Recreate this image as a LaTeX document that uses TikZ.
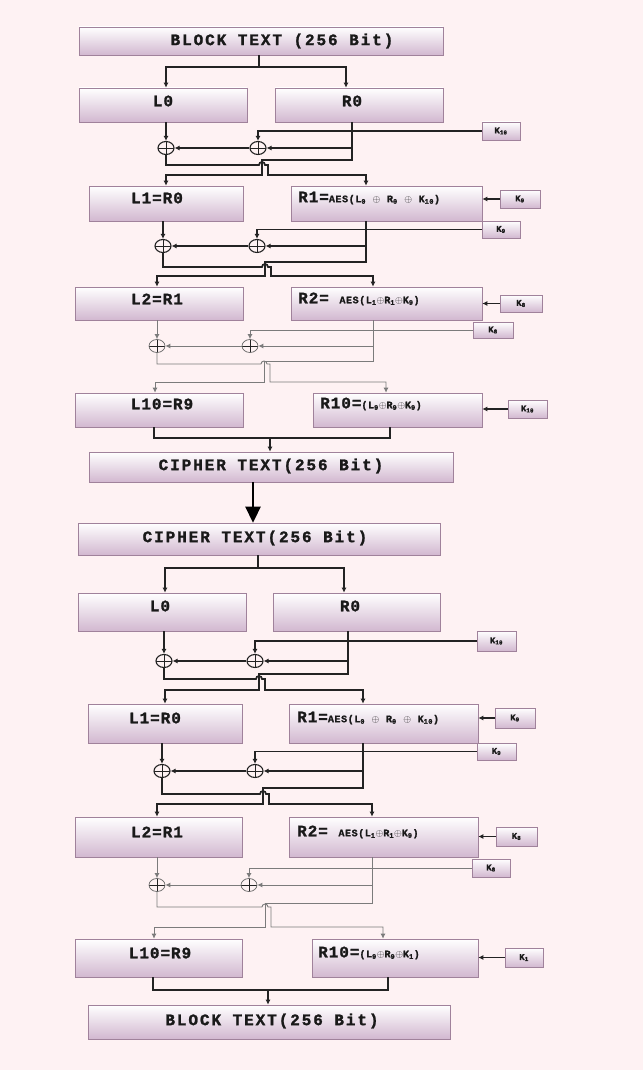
\documentclass[tikz,border=0pt]{standalone}
\usepackage{fontspec}
\setmonofont[BoldFeatures={FakeBold=1.2}]{Liberation Mono}
\newfontfamily\ttlfont[LetterSpace=12,BoldFeatures={FakeBold=1.4}]{Liberation Mono}
\newfontfamily\lblfont[LetterSpace=6,BoldFeatures={FakeBold=1.4}]{Liberation Mono}
\usetikzlibrary{arrows.meta,shadows,shapes.geometric}
\definecolor{bgc}{RGB}{254,242,243}
\definecolor{boxc}{RGB}{210,184,208}
\definecolor{boxd}{RGB}{160,130,155}
\definecolor{lnc}{RGB}{35,35,35}
\definecolor{txc}{RGB}{25,25,25}
\newcommand\bx[6]{\node[#6, minimum width={(#4-#2)*1pt}, minimum height={(#5-#3)*1pt}] (#1) at ({(#2+#4)/2},{(#3+#5)/2}) {};}
\newcommand\sm{\fontsize{10}{10}\selectfont}
\tikzset{
  box/.style={draw=boxd, line width=0.6pt, top color=white, bottom color=boxc, inner sep=0pt,
    drop shadow={shadow xshift=1pt, shadow yshift=-1.4pt, fill=boxd, opacity=0.7}},
  ln/.style={draw=lnc, line width=1.7pt},
  thn/.style={draw=lnc!60, line width=0.9pt},
  tip/.style={-{Latex[length=5pt,width=5pt]}},
  xor/.style={ellipse, draw=lnc, line width=1.1pt, minimum width=16pt, minimum height=13pt, inner sep=0pt,
    path picture={\draw[lnc,line width=1pt] (path picture bounding box.north) -- (path picture bounding box.south)
      (path picture bounding box.west) -- (path picture bounding box.east);}},
  xort/.style={xor, draw=lnc!70, line width=0.7pt},
  ttl/.style={font=\ttlfont\bfseries\fontsize{16}{16}\selectfont, text=txc, inner sep=0pt},
  lb/.style={font=\lblfont\bfseries\fontsize{16}{16}\selectfont, text=txc, inner sep=0pt},
  kb/.style={font=\ttfamily\bfseries\fontsize{9}{9}\selectfont, text=txc, inner sep=0pt},
}
\begin{document}
\begin{tikzpicture}[x=1pt,y=-1pt]
\fill[bgc] (0,0) rectangle (643,1070);
\useasboundingbox (0,0) rectangle (643,1070);

% ================= ENCRYPTION =================
\bx{bt1}{79}{27}{443}{55}{box}
\node[ttl] (tbt1) at (282,41) {BLOCK TEXT (256 Bit)};
\bx{L0}{79}{88}{247}{122}{box}
\node[lb] (tL0) at (163,101) {L0};
\bx{R0}{275}{88}{443}{122}{box}
\node[lb] (tR0) at (352,101) {R0};
\coordinate (s1) at (259,67);
\draw[ln] (bt1.south -| s1) -- (s1);
\draw[ln,tip] (s1) -| (L0.north -| 166,0);
\draw[ln,tip] (s1) -| (R0.north -| 346,0);

\bx{k1}{482}{122}{520}{140}{box}
\node[kb] at (k1) {K\textsubscript{10}};
\node[xor] (xa1) at (166,148) {};
\node[xor] (xb1) at (258,148) {};
\draw[ln,tip] (L0.south -| xa1) -- (xa1.north);
\draw[ln,tip] (k1.west) -| (xb1.north);
\draw[ln,tip] (R0.south -| 352,0) |- (xb1.east);
\draw[ln,tip] (xb1.west) -- (xa1.east);

\bx{L1}{89}{186}{243}{221}{box}
\node[lb] (tL1) at (157,198) {L1=R0};
\bx{R1}{291}{186}{482}{221}{box}
\node[lb,anchor=west] (tR1) at (298,198) {R1={\sm AES(L\textsubscript{0} $\oplus$ R\textsubscript{0} $\oplus$ K\textsubscript{10})}};
\draw[ln,tip] (R0.south -| 352,0) -- (352,160) -- (262,160) -- (262,175) -| (L1.north -| 166,0);
\draw[ln,tip] (xa1.south) -- (166,165) -- (259,165) arc[start angle=180,end angle=0,radius=3pt] -- (268,165) -- (268,175) -| (R1.north -| 366,0);

\bx{k2}{500}{190}{540}{208}{box}
\node[kb] at (k2) {K\textsubscript{9}};
\draw[ln,tip] (k2.west) -- (R1.east |- k2.west);
\bx{k3}{482}{221}{520}{238}{box}
\node[kb] at (k3) {K\textsubscript{9}};
\node[xor] (xa2) at (163,246) {};
\node[xor] (xb2) at (257,246) {};
\draw[ln,tip] (L1.south -| xa2) -- (xa2.north);
\draw[ln,tip] (k3.west) -| (xb2.north);
\draw[ln,tip] (R1.south -| 366,0) |- (xb2.east);
\draw[ln,tip] (xb2.west) -- (xa2.east);

\bx{L2}{75}{287}{243}{320}{box}
\node[lb] (tL2) at (157,299) {L2=R1};
\bx{R2}{291}{287}{482}{320}{box}
\node[lb,anchor=west] (tR2) at (298,299) {R2= {\sm AES(L\textsubscript{1}$\oplus$R\textsubscript{1}$\oplus$K\textsubscript{9})}};
\draw[ln,tip] (R1.south -| 366,0) -- (366,262) -- (265,262) -- (265,276) -| (L2.north -| 157,0);
\draw[ln,tip] (xa2.south) -- (163,267) -- (262,267) arc[start angle=180,end angle=0,radius=3pt] -- (271,267) -- (271,276) -| (R2.north -| 373,0);

\bx{k4}{500}{295}{542}{312}{box}
\node[kb] at (k4) {K\textsubscript{8}};
\draw[ln,tip] (k4.west) -- (R2.east |- k4.west);
\bx{k5}{473}{322}{513}{338}{box}
\node[kb] at (k5) {K\textsubscript{8}};
\node[xort] (xa3) at (157,346) {};
\node[xort] (xb3) at (250,346) {};
\draw[thn,tip] (L2.south -| xa3) -- (xa3.north);
\draw[thn,tip] (k5.west) -| (xb3.north);
\draw[thn,tip] (R2.south -| 373,0) |- (xb3.east);
\draw[thn,tip] (xb3.west) -- (xa3.east);

\bx{L10}{75}{393}{243}{427}{box}
\node[lb] (tL10) at (162,404) {L10=R9};
\bx{R10}{313}{393}{482}{427}{box}
\node[lb,anchor=west] (tR10) at (320,404) {R10={\sm (L\textsubscript{9}$\oplus$R\textsubscript{9}$\oplus$K\textsubscript{9})}};
\draw[thn,tip] (R2.south -| 373,0) -- (373,361) -- (264,361) -- (264,382) -| (L10.north -| 155,0);
\draw[thn,tip] (xa3.south) -- (157,364) -- (261,364) arc[start angle=180,end angle=0,radius=3pt] -- (270,364) -- (270,382) -| (R10.north -| 386,0);
\bx{k6}{508}{400}{547}{418}{box}
\node[kb] at (k6) {K\textsubscript{10}};
\draw[ln,tip] (k6.west) -- (R10.east |- k6.west);

\bx{ct1}{89}{452}{453}{482}{box}
\node[ttl] (tct1) at (271,466) {CIPHER TEXT(256 Bit)};
\coordinate (m1) at (270,438);
\draw[ln] (L10.south -| 154,0) -- (154,438) -- (390,438) -- (R10.south -| 390,0);
\draw[ln,tip] (m1) -- (ct1.north -| m1);

% big arrow
\bx{ct2}{78}{523}{440}{555}{box}
\node[ttl] (tct2) at (255,538) {CIPHER TEXT(256 Bit)};
\draw[draw=black, line width=2.6pt, -{Triangle[length=16pt,width=15pt]}] (ct1.south -| 253,0) -- (ct2.north -| 253,0);

% ================= DECRYPTION =================
\coordinate (s2) at (258,568);
\draw[ln] (ct2.south -| s2) -- (s2);
\bx{dL0}{78}{593}{246}{631}{box}
\node[lb] (tdL0) at (160,606) {L0};
\bx{dR0}{273}{593}{440}{631}{box}
\node[lb] (tdR0) at (350,606) {R0};
\draw[ln,tip] (s2) -| (dL0.north -| 165,0);
\draw[ln,tip] (s2) -| (dR0.north -| 344,0);

\bx{dk1}{477}{631}{516}{651}{box}
\node[kb] at (dk1) {K\textsubscript{10}};
\node[xor] (xa4) at (164,661) {};
\node[xor] (xb4) at (255,661) {};
\draw[ln,tip] (dL0.south -| xa4) -- (xa4.north);
\draw[ln,tip] (dk1.west) -| (xb4.north);
\draw[ln,tip] (dR0.south -| 348,0) |- (xb4.east);
\draw[ln,tip] (xb4.west) -- (xa4.east);

\bx{dL1}{88}{704}{242}{743}{box}
\node[lb] (tdL1) at (155,718) {L1=R0};
\bx{dR1}{289}{704}{478}{743}{box}
\node[lb,anchor=west] (tdR1) at (297,718) {R1={\sm AES(L\textsubscript{0} $\oplus$ R\textsubscript{0} $\oplus$ K\textsubscript{10})}};
\draw[ln,tip] (dR0.south -| 348,0) -- (348,674) -- (259,674) -- (259,690) -| (dL1.north -| 165,0);
\draw[ln,tip] (xa4.south) -- (164,679) -- (256,679) arc[start angle=180,end angle=0,radius=3pt] -- (265,679) -- (265,690) -| (dR1.north -| 363,0);

\bx{dk2}{495}{708}{535}{728}{box}
\node[kb] at (dk2) {K\textsubscript{9}};
\draw[ln,tip] (dk2.west) -- (dR1.east |- dk2.west);
\bx{dk3}{477}{743}{516}{760}{box}
\node[kb] at (dk3) {K\textsubscript{9}};
\node[xor] (xa5) at (162,771) {};
\node[xor] (xb5) at (255,771) {};
\draw[ln,tip] (dL1.south -| xa5) -- (xa5.north);
\draw[ln,tip] (dk3.west) -| (xb5.north);
\draw[ln,tip] (dR1.south -| 363,0) |- (xb5.east);
\draw[ln,tip] (xb5.west) -- (xa5.east);

\bx{dL2}{75}{817}{242}{857}{box}
\node[lb] (tdL2) at (157,832) {L2=R1};
\bx{dR2}{289}{817}{478}{857}{box}
\node[lb,anchor=west] (tdR2) at (297,832) {R2= {\sm AES(L\textsubscript{1}$\oplus$R\textsubscript{1}$\oplus$K\textsubscript{9})}};
\draw[ln,tip] (dR1.south -| 363,0) -- (363,788) -- (263,788) -- (263,804) -| (dL2.north -| 157,0);
\draw[ln,tip] (xa5.south) -- (162,794) -- (260,794) arc[start angle=180,end angle=0,radius=3pt] -- (269,794) -- (269,804) -| (dR2.north -| 372,0);

\bx{dk4}{496}{827}{537}{846}{box}
\node[kb] at (dk4) {K\textsubscript{8}};
\draw[ln,tip] (dk4.west) -- (dR2.east |- dk4.west);
\bx{dk5}{472}{859}{510}{877}{box}
\node[kb] at (dk5) {K\textsubscript{8}};
\node[xort] (xa6) at (157,885) {};
\node[xort] (xb6) at (249,885) {};
\draw[thn,tip] (dL2.south -| xa6) -- (xa6.north);
\draw[thn,tip] (dk5.west) -| (xb6.north);
\draw[thn,tip] (dR2.south -| 372,0) |- (xb6.east);
\draw[thn,tip] (xb6.west) -- (xa6.east);

\bx{dL10}{75}{939}{242}{977}{box}
\node[lb] (tdL10) at (160,953) {L10=R9};
\bx{dR10}{312}{939}{478}{977}{box}
\node[lb,anchor=west] (tdR10) at (318,953) {R10={\sm (L\textsubscript{9}$\oplus$R\textsubscript{9}$\oplus$K\textsubscript{1})}};
\draw[thn,tip] (dR2.south -| 372,0) -- (372,903) -- (265,903) -- (265,927) -| (dL10.north -| 154,0);
\draw[thn,tip] (xa6.south) -- (157,907) -- (262,907) arc[start angle=180,end angle=0,radius=3pt] -- (271,907) -- (271,927) -| (dR10.north -| 383,0);
\bx{dk6}{505}{948}{543}{967}{box}
\node[kb] at (dk6) {K\textsubscript{1}};
\draw[ln,tip] (dk6.west) -- (dR10.east |- dk6.west);

\bx{bt2}{88}{1005}{450}{1039}{box}
\node[ttl] (tbt2) at (272,1021) {BLOCK TEXT(256 Bit)};
\coordinate (m2) at (268,990);
\draw[ln] (dL10.south -| 153,0) -- (153,990) -- (388,990) -- (dR10.south -| 388,0);
\draw[ln,tip] (m2) -- (bt2.north -| m2);
\end{tikzpicture}
\end{document}
